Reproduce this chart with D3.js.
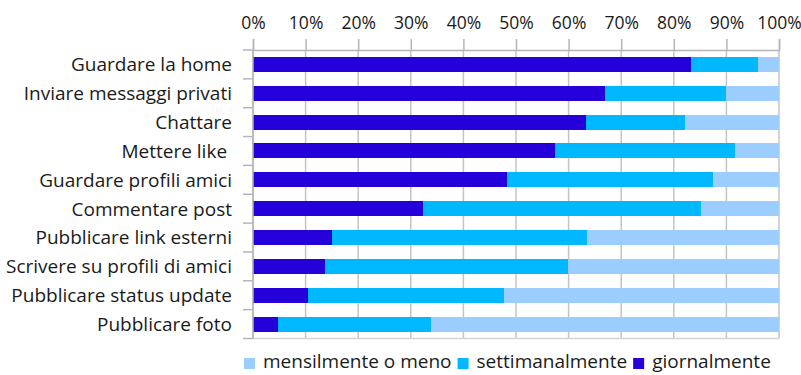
<!DOCTYPE html>
<html>
<head>
<meta charset="utf-8">
<script src="https://cdn.jsdelivr.net/npm/d3@7"></script>
<style>
  html, body { margin: 0; padding: 0; background: #fff; }
  svg { display: block; font-family: "Open Sans", "Noto Sans", sans-serif; }
</style>
</head>
<body>
<svg id="chart" width="801" height="375"></svg>
<script>
// Activities, top to bottom
const categories = [
  "Guardare la home",
  "Inviare messaggi privati",
  "Chattare",
  "Mettere like ",
  "Guardare profili amici",
  "Commentare post",
  "Pubblicare link esterni",
  "Scrivere su profili di amici",
  "Pubblicare status update",
  "Pubblicare foto"
];

// Share of users (%) by frequency
const giornalmente    = [83.3, 66.9, 63.3, 57.4, 48.3, 32.3, 15.0, 13.7, 10.4, 4.7];
const settimanalmente = [12.8, 23.1, 18.8, 34.3, 39.1, 52.8, 48.5, 46.2, 37.4, 29.1];
const mensilmente     = [3.9, 10.0, 17.9, 8.3, 12.6, 14.9, 36.5, 40.1, 52.2, 66.2];

const tickValues = [0, 10, 20, 30, 40, 50, 60, 70, 80, 90, 100];

const seriesKeys = ["giornalmente", "settimanalmente", "mensilmente"];
const seriesNames = {
  giornalmente: "giornalmente",
  settimanalmente: "settimanalmente",
  mensilmente: "mensilmente o meno"
};
const colors = {
  giornalmente: "#2600da",
  settimanalmente: "#00b8ff",
  mensilmente: "#9ccdff"
};

const rows = categories.map((c, i) => ({
  cat: c,
  giornalmente: giornalmente[i],
  settimanalmente: settimanalmente[i],
  mensilmente: mensilmente[i]
}));

const svg = d3.select("#chart");
const margin = { left: 253, right: 22, top: 50, bottom: 36.5 };
const W = 801, H = 375;
const textColor = "#1a1a1a";
const axisColor = "#b5b5b5";

const x = d3.scaleLinear().domain([0, 100]).range([margin.left, W - margin.right]);
const y = d3.scaleBand().domain(categories)
  .range([margin.top, H - margin.bottom])
  .paddingInner(0.48).paddingOuter(0.24);

// grid
const grid = svg.append("g");
grid.selectAll("line.v").data(tickValues).join("line")
  .attr("x1", d => x(d)).attr("x2", d => x(d))
  .attr("y1", margin.top).attr("y2", H - margin.bottom)
  .attr("stroke", "#c4c4c4").attr("stroke-width", 1.5);
grid.append("line")
  .attr("x1", margin.left).attr("x2", W - margin.right)
  .attr("y1", H - margin.bottom).attr("y2", H - margin.bottom)
  .attr("stroke", "#d4d4d4").attr("stroke-width", 1.5);

// stacked bars
const stack = d3.stack().keys(seriesKeys)(rows);
svg.append("g").selectAll("g").data(stack).join("g")
  .attr("fill", s => colors[s.key])
  .selectAll("rect").data(s => s).join("rect")
  .attr("x", d => x(d[0]))
  .attr("width", d => x(d[1]) - x(d[0]))
  .attr("y", d => y(d.data.cat))
  .attr("height", y.bandwidth())
  .attr("shape-rendering", "crispEdges");

// top axis
const xAxis = d3.axisTop(x).tickValues(tickValues).tickFormat(d => d + "%")
  .tickSize(11).tickPadding(10);
const gx = svg.append("g").attr("transform", `translate(0,${margin.top})`).call(xAxis);
gx.select(".domain").attr("stroke", axisColor).attr("stroke-width", 1.5);
gx.selectAll(".tick line").attr("stroke", axisColor).attr("stroke-width", 1.5);
gx.selectAll(".tick text").attr("font-size", 17.5).attr("fill", textColor)
  .attr("font-family", "'Open Sans', sans-serif");

// left axis with ticks between categories
const gy = svg.append("g");
gy.append("line")
  .attr("x1", margin.left).attr("x2", margin.left)
  .attr("y1", margin.top).attr("y2", H - margin.bottom)
  .attr("stroke", axisColor).attr("stroke-width", 1.5);
const boundaries = d3.range(categories.length + 1)
  .map(i => margin.top + i * (H - margin.top - margin.bottom) / categories.length);
gy.selectAll("line.t").data(boundaries).join("line")
  .attr("x1", margin.left - 10).attr("x2", margin.left)
  .attr("y1", d => d).attr("y2", d => d)
  .attr("stroke", axisColor).attr("stroke-width", 1.5);
gy.selectAll("text").data(categories).join("text")
  .attr("x", 232)
  .attr("y", d => y(d) + y.bandwidth() / 2)
  .attr("dy", "0.36em")
  .attr("text-anchor", "end")
  .attr("font-size", 19)
  .attr("fill", textColor)
  .style("white-space", "pre")
  .text(d => d);

// legend
const legendItems = ["mensilmente", "settimanalmente", "giornalmente"];
const lg = svg.append("g").attr("transform", "translate(244,368)");
let lx = 0;
legendItems.forEach(k => {
  lg.append("rect").attr("x", lx).attr("y", -10).attr("width", 11).attr("height", 11)
    .attr("fill", colors[k]);
  const t = lg.append("text").attr("x", lx + 19).attr("y", 0)
    .attr("font-size", 19).attr("fill", textColor).text(seriesNames[k]);
  lx += 19 + t.node().getComputedTextLength() + 6;
});
</script>
</body>
</html>
